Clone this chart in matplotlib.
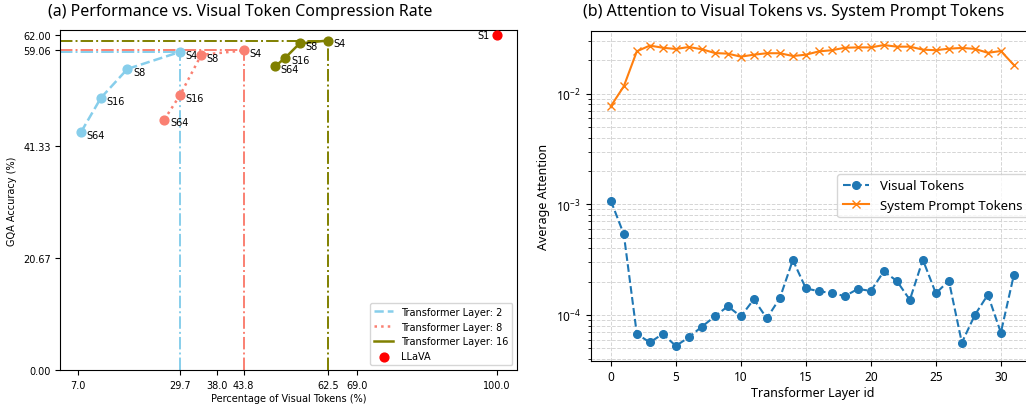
import matplotlib.pyplot as plt
import numpy as np

plt.rcParams['font.family'] = ['Noto Sans', 'DejaVu Sans']
plt.rcParams['mathtext.fontset'] = 'custom'
plt.rcParams['mathtext.rm'] = 'Noto Sans'

# ---- (a) data ----
strides = ['S64', 'S16', 'S8', 'S4']
pct_l2 = [7.7, 12.1, 18.0, 29.7]
acc_l2 = [44.0, 50.3, 55.65, 58.8]
pct_l8 = [26.2, 29.7, 34.4, 43.8]
acc_l8 = [46.3, 50.85, 58.25, 59.06]
pct_l16 = [50.8, 53.1, 56.25, 62.5]
acc_l16 = [56.1, 57.75, 60.35, 60.9]
llava_pct = 100.0
llava_acc = 62.0

xticks_a = [7.0, 29.7, 38.0, 43.8, 62.5, 69.0, 100.0]
yticks_a = [0.0, 20.67, 41.33, 59.06, 62.0]

# ---- (b) data ----
layers = np.arange(32)
visual_attn = [1.08e-3, 5.36e-4, 6.74e-5, 5.66e-5, 6.74e-5, 5.25e-5, 6.29e-5, 7.84e-5,
               9.7e-5, 1.2e-4, 9.7e-5, 1.385e-4, 9.33e-5, 1.42e-4, 3.14e-4, 1.74e-4,
               1.64e-4, 1.58e-4, 1.48e-4, 1.72e-4, 1.65e-4, 2.48e-4, 2.03e-4, 1.37e-4,
               3.16e-4, 1.57e-4, 2.04e-4, 5.62e-5, 1.0e-4, 1.525e-4, 6.92e-5, 2.3e-4]
system_attn = [7.7e-3, 1.166e-2, 2.415e-2, 2.72e-2, 2.6e-2, 2.535e-2, 2.64e-2, 2.52e-2,
               2.33e-2, 2.3e-2, 2.16e-2, 2.25e-2, 2.32e-2, 2.32e-2, 2.19e-2, 2.25e-2,
               2.41e-2, 2.47e-2, 2.6e-2, 2.62e-2, 2.62e-2, 2.75e-2, 2.66e-2, 2.66e-2,
               2.5e-2, 2.47e-2, 2.55e-2, 2.59e-2, 2.54e-2, 2.34e-2, 2.43e-2, 1.816e-2]

fig = plt.figure(figsize=(10.26, 4.06), dpi=100)

# ================= left panel =================
ax1 = fig.add_axes([0.0588, 0.0862, 0.4454, 0.8382])
ax1.set_xlim(3.08, 104.62)
ax1.set_ylim(0, 62.9)
x0 = ax1.get_xlim()[0]

series = [(pct_l2, acc_l2, 'skyblue', '--', 'Transformer Layer: 2'),
          (pct_l8, acc_l8, 'salmon', ':', 'Transformer Layer: 8'),
          (pct_l16, acc_l16, 'olive', '-', 'Transformer Layer: 16')]

for xs, ys, c, ls, lab in series:
    ax1.vlines(xs[-1], 0, ys[-1], colors=c, linestyles='-.', linewidth=1.4)
    ax1.hlines(ys[-1], x0, xs[-1], colors=c, linestyles='-.', linewidth=1.4)

for xs, ys, c, ls, lab in series:
    ax1.plot(xs, ys, color=c, linestyle=ls, linewidth=1.8, label=lab)
    ax1.scatter(xs, ys, color=c, s=40, zorder=3)
    for s, x, y in zip(strides, xs, ys):
        ax1.annotate(s, (x, y), xytext=(4, -2), textcoords='offset points',
                     fontsize=7, va='center', ha='left', family='DejaVu Sans')

ax1.scatter([llava_pct], [llava_acc], color='red', s=40, zorder=3, label='LLaVA')
ax1.annotate('S1', (llava_pct, llava_acc), xytext=(-5, 0), textcoords='offset points',
             fontsize=7, va='center', ha='right', family='DejaVu Sans')

ax1.set_xticks(xticks_a)
ax1.set_xticklabels([f'{v:.1f}' for v in xticks_a], family='DejaVu Sans', fontsize=7)
ax1.set_yticks(yticks_a)
ax1.set_yticklabels([f'{v:.2f}' for v in yticks_a], family='DejaVu Sans', fontsize=7)
ax1.set_xlabel('Percentage of Visual Tokens (%)', family='DejaVu Sans', fontsize=7, labelpad=2)
ax1.set_ylabel('GQA Accuracy (%)', family='DejaVu Sans', fontsize=7)
ax1.legend(loc='lower right', prop={'family': 'DejaVu Sans', 'size': 7})
fig.text(240 / 1026, 1 - 12 / 406, '(a) Performance vs. Visual Token Compression Rate',
         ha='center', va='center', fontsize=11.5)

# ================= right panel =================
ax2 = fig.add_axes([0.5757, 0.109, 0.4321, 0.813])
ax2.plot(layers, visual_attn, linestyle='--', marker='o', markersize=5.5, linewidth=1.5,
         color='#1f77b4', label='Visual Tokens')
ax2.plot(layers, system_attn, linestyle='-', marker='x', markersize=6, linewidth=1.5,
         color='#ff7f0e', label='System Prompt Tokens')
ax2.set_yscale('log')
ax2.set_xlim(-1.55, 32.55)
ax2.set_ylim(3.86e-5, 3.71e-2)
ax2.grid(True, which='both', linestyle='--', color='#d5d5d5', linewidth=0.7)
ax2.set_xlabel('Transformer Layer id', fontsize=9, labelpad=2)
ax2.set_ylabel('Average Attention', fontsize=9)
ax2.tick_params(labelsize=8.5)
ax2.legend(loc='center right', fontsize=9.5)
fig.text(794 / 1026, 1 - 12 / 406, '(b) Attention to Visual Tokens vs. System Prompt Tokens',
         ha='center', va='center', fontsize=11.5)

fig.savefig('out.png', dpi=100)
